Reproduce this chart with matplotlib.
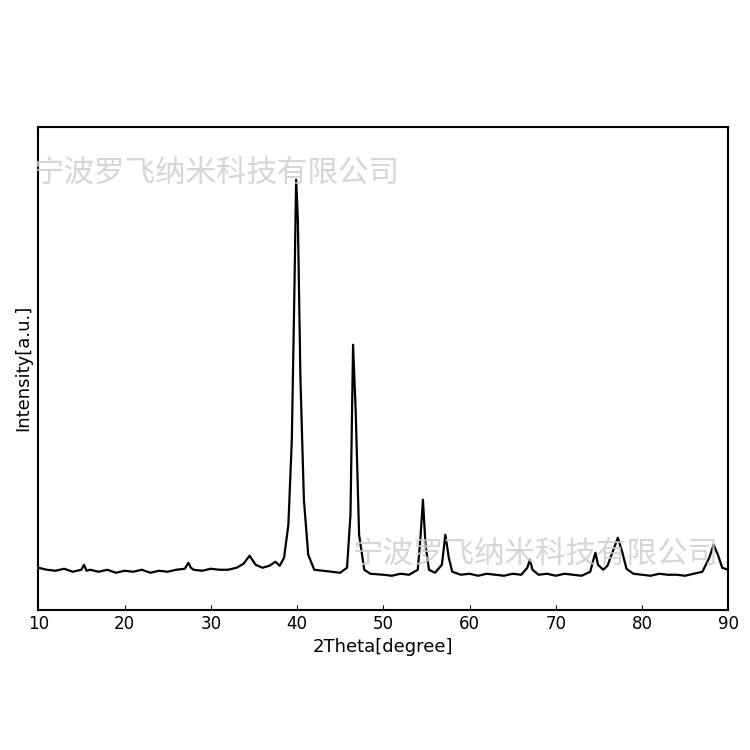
import matplotlib.pyplot as plt

# XRD trace (2theta in degrees, intensity in arbitrary units)
two_theta = [10, 11, 12, 13, 14, 15, 15.3, 15.6, 16, 17, 18, 19, 20, 21, 22, 23, 24, 25,
             26, 27, 27.4, 27.7, 28, 29, 30, 31, 32, 33, 33.8, 34.5, 35.2, 36, 36.8, 37.5,
             38, 38.5, 39, 39.4, 39.7, 39.9, 40.1, 40.4, 40.8, 41.3, 42, 43, 44, 45, 45.8,
             46.2, 46.5, 46.8, 47.2, 47.8, 48.5, 50, 51, 52, 53, 54, 54.3, 54.6, 54.9, 55.3,
             56, 56.8, 57.2, 57.6, 58, 59, 60, 61, 62, 63, 64, 65, 66, 66.7, 67, 67.3, 68,
             69, 70, 71, 72, 73, 74, 74.3, 74.6, 74.9, 75.5, 76, 76.6, 77.2, 77.7, 78.2, 79,
             80, 81, 82, 83, 84, 85, 86, 87, 87.8, 88.3, 88.8, 89.3, 90]
intensity = [42, 40, 39, 41, 38, 40, 45, 39, 40, 38, 40, 37, 39, 38, 40, 37, 39, 38,
             40, 41, 47, 42, 40, 39, 41, 40, 40, 42, 46, 54, 45, 42, 44, 48,
             44, 52, 85, 170, 320, 430, 390, 230, 110, 55, 40, 39, 38, 37, 42,
             95, 265, 200, 75, 40, 36, 35, 34, 36, 35, 40, 70, 110, 65, 40,
             37, 45, 75, 52, 38, 35, 36, 34, 36, 35, 34, 36, 35, 42, 50, 40, 35,
             36, 34, 36, 35, 34, 38, 48, 57, 45, 40, 44, 58, 72, 58, 41, 36,
             35, 34, 36, 35, 35, 34, 36, 38, 52, 65, 55, 42, 40]

fig = plt.figure(figsize=(7.5, 7.5), dpi=100)
ax = fig.add_axes([0.051, 0.187, 0.92, 0.644])
ax.plot(two_theta, intensity, color='black', lw=1.6)
ax.set_xlim(10, 90)
ax.set_ylim(0, 483)
ax.set_yticks([])
ax.set_xticks(range(10, 91, 10))
ax.tick_params(axis='x', direction='in', labelsize=12)
for s in ax.spines.values():
    s.set_linewidth(1.5)
ax.set_xlabel('2Theta[degree]', fontsize=13)
ax.set_ylabel('Intensity[a.u.]', fontsize=13)

wm = '宁波罗飞纳米科技有限公司'
fig.text(0.045, 0.757, wm, fontsize=22, color='#cccccc', alpha=0.8, family=['Noto Sans CJK SC'])
fig.text(0.47, 0.25, wm, fontsize=22, color='#cccccc', alpha=0.8, family=['Noto Sans CJK SC'])

fig.savefig('out.png')
